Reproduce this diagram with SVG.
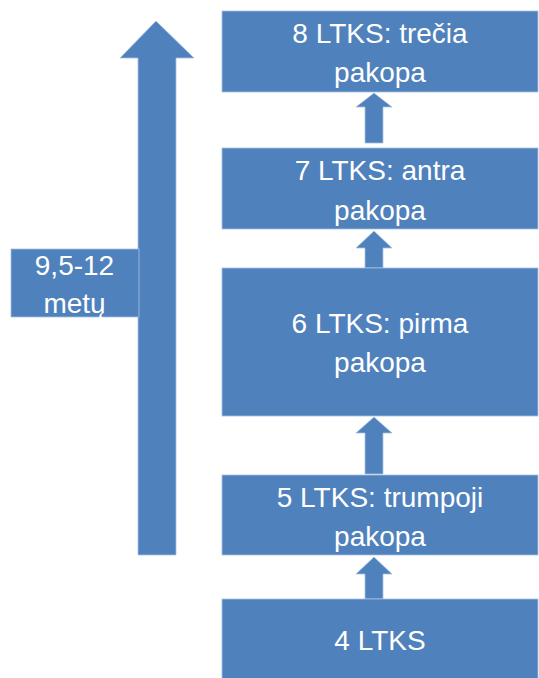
<svg xmlns="http://www.w3.org/2000/svg" width="539" height="678" viewBox="0 0 539 678">
  <style>
    .box { fill: #4F81BD; stroke: #a9c1e1; stroke-width: 0.8; }
    .arr { fill: #4F81BD; stroke: #a9c1e1; stroke-width: 0.8; }
    .t { font-family: "Liberation Sans", Arial, sans-serif; font-size: 28px; fill: #ffffff; text-anchor: middle; }
  </style>
  <rect width="539" height="678" fill="#ffffff"/>
  <g id="duration">
    <path class="arr" d="M138 555 L138 58 L120 58 L156 21 L194 58 L176 58 L176 555 Z"/>
    <rect class="box" x="11" y="249" width="128" height="68" stroke="none"/>
    <text class="t" x="74.5" y="275">9,5-12</text>
    <text class="t" x="74.5" y="313">metų</text>
  </g>
  <g id="connectors">
    <path class="arr" d="M365 143 L365 107 L356 107 L374 93 L392 107 L383 107 L383 143 Z"/>
    <path class="arr" d="M365 268 L365 248 L356 248 L374 231 L392 248 L383 248 L383 268 Z"/>
    <path class="arr" d="M365 474 L365 433 L356 433 L374 417 L392 433 L383 433 L383 474 Z"/>
    <path class="arr" d="M365 599 L365 574 L356 574 L374 557 L392 574 L383 574 L383 599 Z"/>
  </g>
  <g id="ltks8">
    <rect class="box" x="222" y="11" width="316" height="81"/>
    <text class="t" x="380" y="43">8 LTKS: trečia</text>
    <text class="t" x="380" y="82">pakopa</text>
  </g>
  <g id="ltks7">
    <rect class="box" x="222" y="148" width="316" height="81"/>
    <text class="t" x="380" y="180">7 LTKS: antra</text>
    <text class="t" x="380" y="220">pakopa</text>
  </g>
  <g id="ltks6">
    <rect class="box" x="222" y="268" width="316" height="148"/>
    <text class="t" x="380" y="333">6 LTKS: pirma</text>
    <text class="t" x="380" y="372">pakopa</text>
  </g>
  <g id="ltks5">
    <rect class="box" x="222" y="475" width="316" height="80"/>
    <text class="t" x="380" y="507">5 LTKS: trumpoji</text>
    <text class="t" x="380" y="546">pakopa</text>
  </g>
  <g id="ltks4">
    <rect class="box" x="222" y="599" width="316" height="80"/>
    <text class="t" x="380" y="650">4 LTKS</text>
  </g>
</svg>
